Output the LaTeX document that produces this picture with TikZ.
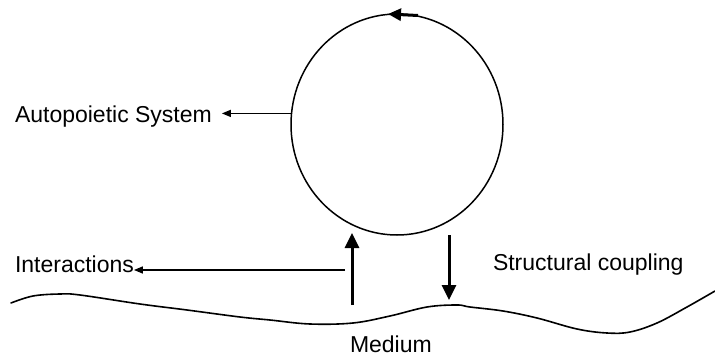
\documentclass[tikz,border=0pt]{standalone}
\usepackage{fontspec}
\setmainfont{Liberation Sans}
\usetikzlibrary{arrows.meta,shapes.geometric,calc}
\begin{document}
\begin{tikzpicture}[x=1pt,y=-1pt,
  lbl/.style={inner sep=0pt,outer sep=0pt,anchor=base west,font=\fontsize{23}{27}\selectfont},
  thinarrow/.style={line width=1.4pt,-{Triangle[length=9pt,width=7pt]}},
  thickarrow/.style={line width=3pt,-{Triangle[length=15pt,width=14pt]}},
  wave/.style={line width=1.6pt,line join=round,line cap=round}]
\useasboundingbox (0,0) rectangle (715,361);
\node[draw,ellipse,line width=1.5pt,inner sep=0pt,outer sep=0pt,minimum width=212pt,minimum height=221pt] (sys) at (397,124.5) {};
\node[lbl] (asys) at (15,122) {Autopoietic System};
\node[lbl] (inter) at (15,272) {Interactions};
\node[lbl] (sc) at (493,270) {Structural coupling};
\node[lbl] (med) at (350,352) {Medium};
\coordinate (atip) at ([xshift=10pt]asys.east);
\draw[thinarrow] (sys.174) -- (atip |- sys.174);
\draw[line width=3pt,-{Triangle[length=13pt,width=12pt]}] ([xshift=21pt,yshift=-1.5pt]sys.north) -- ([xshift=-9pt]sys.north);
\coordinate (ubot) at (352,305);
\coordinate (utop) at (352,233);
\coordinate (dtop) at (449,235);
\coordinate (dbot) at (449,300);
\draw[thickarrow] (ubot) -- (utop);
\draw[thickarrow] (dtop) -- (dbot);
\coordinate (ia) at (345,270);
\draw[thinarrow] (ia) -- (ia -| inter.east);
\draw[wave] plot[smooth,tension=0.6] coordinates {(11,303) (33,296) (60,294) (80,295) (140,304) (187,310) (240,317) (270,320) (310,324) (353,323) (390,316) (427,307) (457,305) (470,307) (503,311) (537,318) (577,329) (607,333) (630,332) (657,323) (687,307) (715,291)};
\end{tikzpicture}
\end{document}
